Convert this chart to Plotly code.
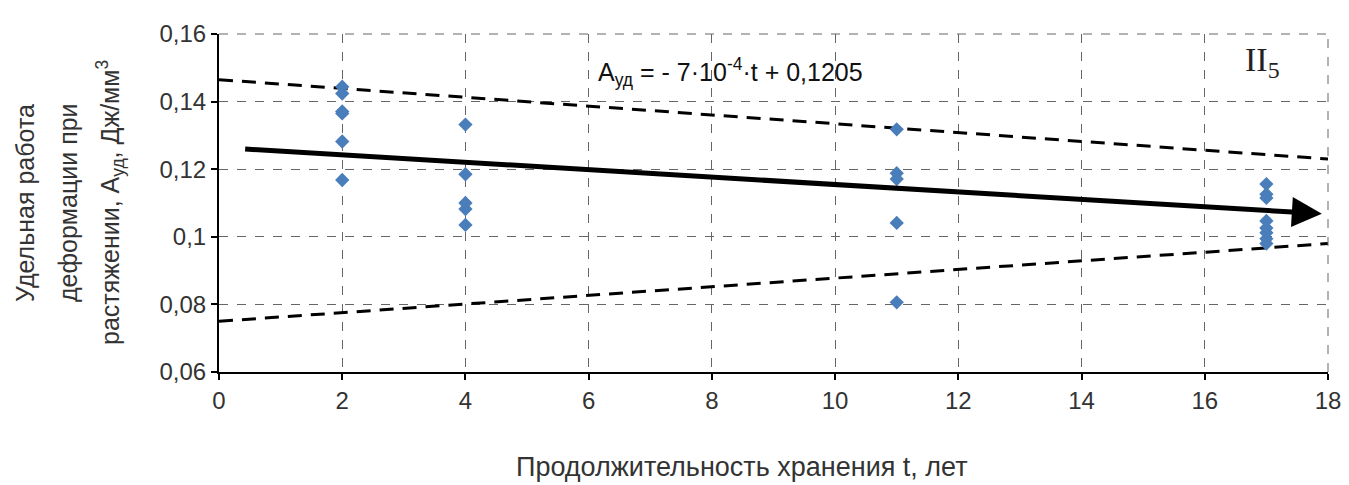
import plotly.graph_objects as go

# data
t_vals = [2, 2, 2, 2, 2, 2,
          4, 4, 4, 4, 4,
          11, 11, 11, 11, 11,
          17, 17, 17, 17, 17, 17, 17, 17]
a_vals = [0.1444, 0.1424, 0.1371, 0.1365, 0.1282, 0.1168,
          0.1332, 0.1185, 0.1100, 0.1082, 0.1035,
          0.1318, 0.1188, 0.1171, 0.1041, 0.0806,
          0.1156, 0.1126, 0.1115, 0.1047, 0.1026, 0.1012, 0.0994, 0.0980]

trend_x = [0.4, 17.9]
trend_y = [0.1260, 0.1068]
upper_x = [0, 18]
upper_y = [0.1465, 0.1230]
lower_x = [0, 18]
lower_y = [0.0750, 0.0980]

x_ticks = [0, 2, 4, 6, 8, 10, 12, 14, 16, 18]
y_ticks = [0.06, 0.08, 0.10, 0.12, 0.14, 0.16]
y_ticktext = ["0,06", "0,08", "0,1", "0,12", "0,14", "0,16"]

FONT = "Liberation Sans, Arial, sans-serif"
TXT = "#333333"

fig = go.Figure()
fig.add_trace(go.Scatter(x=upper_x, y=upper_y, mode="lines",
                         line=dict(color="black", width=3, dash="14px,9px"), showlegend=False))
fig.add_trace(go.Scatter(x=lower_x, y=lower_y, mode="lines",
                         line=dict(color="black", width=3, dash="14px,9px"), showlegend=False))
fig.add_trace(go.Scatter(x=t_vals, y=a_vals, mode="markers",
                         marker=dict(symbol="diamond", size=11, color="#4A7EBB"), showlegend=False))

# trend arrow
fig.add_annotation(x=trend_x[1], y=trend_y[1], ax=trend_x[0], ay=trend_y[0],
                   xref="x", yref="y", axref="x", ayref="y",
                   showarrow=True, arrowhead=2, arrowsize=1.2, arrowwidth=5,
                   arrowcolor="black", text="")

fig.add_annotation(x=8.3, y=0.1488, xref="x", yref="y", showarrow=False,
                   text="A<sub>уд</sub> = - 7·10<sup>-4</sup>·t + 0,1205",
                   font=dict(family=FONT, size=25, color="#111111"))
fig.add_annotation(x=16.93, y=0.1518, xref="x", yref="y", showarrow=False,
                   text="II<sub>5</sub>",
                   font=dict(family="Liberation Serif, Times New Roman, serif", size=34, color="#222222"))

# y title lines
ylines = ["Удельная работа", "деформации при",
          "растяжении, A<sub>уд</sub>, Дж/мм<sup>3</sup>"]
xpix = [25, 68, 110]
for txt, px in zip(ylines, xpix):
    fig.add_annotation(x=(px - 219) / 1109, y=0.5, xref="paper", yref="paper",
                       xanchor="center", yanchor="middle", textangle=-90,
                       showarrow=False, text=txt,
                       font=dict(family=FONT, size=25, color=TXT))

fig.add_annotation(x=0.4716, y=-0.282, xref="paper", yref="paper", showarrow=False,
                   xanchor="center", yanchor="middle",
                   text="Продолжительность хранения t, лет",
                   font=dict(family=FONT, size=27, color=TXT))

fig.update_xaxes(range=[0, 18], tickvals=x_ticks, showgrid=True,
                 gridcolor="#666666", griddash="dash", gridwidth=1,
                 showline=True, linecolor="black", linewidth=2,
                 ticks="outside", ticklen=6, tickcolor="black", tickwidth=1.5,
                 zeroline=False, mirror=False,
                 tickfont=dict(family=FONT, size=24, color=TXT))
fig.update_yaxes(range=[0.06, 0.16], tickvals=y_ticks, ticktext=y_ticktext,
                 showgrid=True, gridcolor="#666666", griddash="dash", gridwidth=1,
                 showline=True, linecolor="black", linewidth=2,
                 ticks="outside", ticklen=6, tickcolor="black", tickwidth=1.5,
                 zeroline=False,
                 tickfont=dict(family=FONT, size=24, color=TXT))

# dashed top/right border
fig.add_shape(type="line", xref="paper", yref="paper", x0=0, x1=1, y0=1, y1=1,
              line=dict(color="#666666", width=1, dash="dash"))
fig.add_shape(type="line", xref="paper", yref="paper", x0=1, x1=1, y0=0, y1=1,
              line=dict(color="#666666", width=1, dash="dash"))

fig.update_layout(width=1349, height=485, plot_bgcolor="white", paper_bgcolor="white",
                  margin=dict(l=211, r=29, t=24, b=121), showlegend=False)

fig.write_html("out.html")
